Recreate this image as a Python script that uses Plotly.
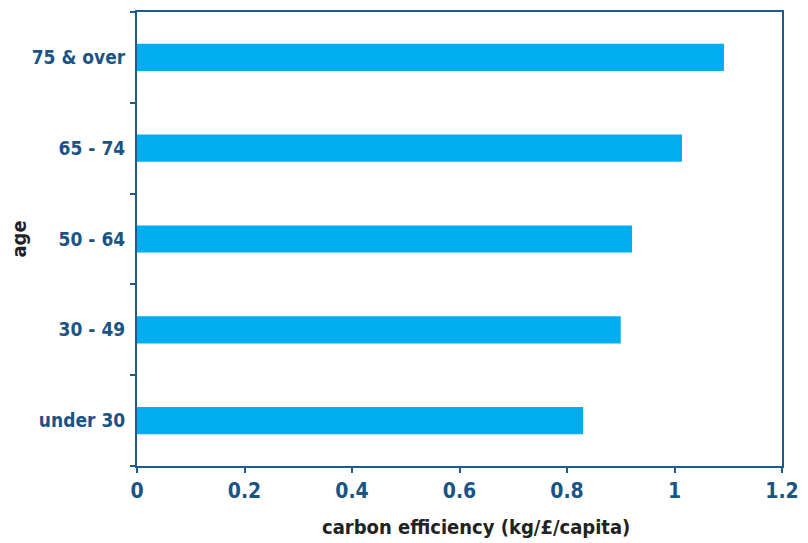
import plotly.graph_objects as go

# Carbon efficiency by age band
age_groups = ["under 30", "30 - 49", "50 - 64", "65 - 74", "75 & over"]
carbon_efficiency = [0.830, 0.900, 0.921, 1.014, 1.092]
x_ticks = [0, 0.2, 0.4, 0.6, 0.8, 1, 1.2]
x_tick_labels = ["0", "0.2", "0.4", "0.6", "0.8", "1", "1.2"]

BAR = "#00AEEF"
AXIS = "#1F5A8C"
LABEL = "#1A5485"
TITLE = "#222222"
FONT = "DejaVu Sans Condensed"

fig = go.Figure(
    go.Bar(
        x=carbon_efficiency,
        y=age_groups,
        orientation="h",
        marker=dict(color=BAR, line=dict(width=0)),
        width=0.3,
    )
)

fig.update_layout(
    width=808,
    height=543,
    margin=dict(l=137, r=26, t=12, b=77),
    paper_bgcolor="white",
    plot_bgcolor="white",
    showlegend=False,
    font=dict(family=FONT, color=LABEL),
)

fig.update_xaxes(
    range=[0, 1.2],
    tickvals=x_ticks,
    ticktext=x_tick_labels,
    tickfont=dict(family=FONT, size=21, color=LABEL, weight="bold"),
    showgrid=False,
    zeroline=False,
    showline=True,
    linecolor=AXIS,
    linewidth=2,
    mirror=True,
    ticks="outside",
    ticklen=5,
    tickwidth=1.5,
    tickcolor=AXIS,
    automargin=False,
)

fig.update_yaxes(
    range=[-0.5, 4.5],
    tickson="boundaries",
    tickfont=dict(family=FONT, size=19, color=LABEL, weight="bold"),
    ticklabelstandoff=6,
    showgrid=False,
    showline=True,
    linecolor=AXIS,
    linewidth=2,
    mirror=True,
    ticks="outside",
    ticklen=5,
    tickwidth=1.5,
    tickcolor=AXIS,
    automargin=False,
    title=dict(
        text="age",
        font=dict(family=FONT, size=20, color=TITLE, weight="bold"),
        standoff=0,
    ),
)

fig.add_annotation(
    text="carbon efficiency (kg/£/capita)",
    xref="paper",
    yref="paper",
    x=0.525,
    y=-0.134,
    xanchor="center",
    yanchor="middle",
    showarrow=False,
    font=dict(family=FONT, size=20, color=TITLE, weight="bold"),
)

fig.write_html("out.html")
